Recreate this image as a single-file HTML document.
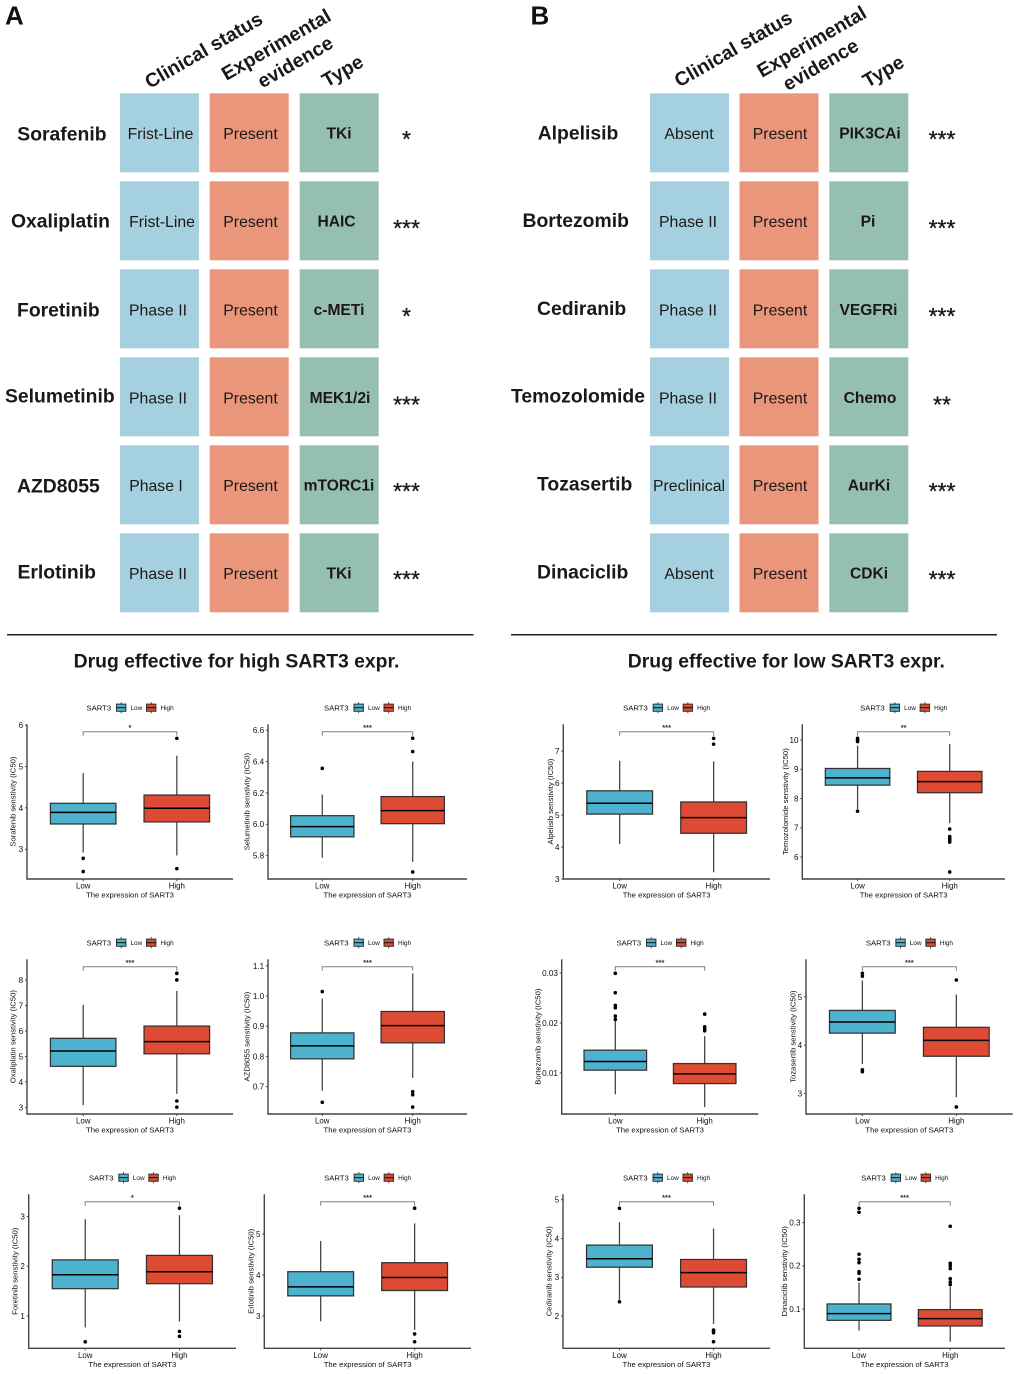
<!DOCTYPE html>
<html lang="en">
<head>
<meta charset="utf-8">
<title>SART3 drug sensitivity figure</title>
<style>
html,body{margin:0;padding:0;background:#fff;}
svg{display:block;font-family:"Liberation Sans",Arial,sans-serif;}
</style>
</head>
<body>
<svg id="figure" xmlns="http://www.w3.org/2000/svg" width="1020" height="1374" viewBox="0 0 1020 1374">
<defs><filter id="soft" x="-2%" y="-2%" width="104%" height="104%"><feGaussianBlur stdDeviation="0.3"/></filter></defs>
</svg>
<script>
/* ---------- Table data ---------- */
const tableHeaders = ['Clinical status', 'Experimental', 'evidence', 'Type'];
const drugsA = ['Sorafenib', 'Oxaliplatin', 'Foretinib', 'Selumetinib', 'AZD8055', 'Erlotinib'];
const statusA = ['Frist-Line', 'Frist-Line', 'Phase II', 'Phase II', 'Phase I', 'Phase II'];
const typesA = ['TKi', 'HAIC', 'c-METi', 'MEK1/2i', 'mTORC1i', 'TKi'];
const starsA = ['*', '***', '*', '***', '***', '***'];
const drugsB = ['Alpelisib', 'Bortezomib', 'Cediranib', 'Temozolomide', 'Tozasertib', 'Dinaciclib'];
const statusB = ['Absent', 'Phase II', 'Phase II', 'Phase II', 'Preclinical', 'Absent'];
const typesB = ['PIK3CAi', 'Pi', 'VEGFRi', 'Chemo', 'AurKi', 'CDKi'];
const starsB = ['***', '***', '***', '**', '***', '***'];

/* ---------- Boxplot data: boxes are [lower whisker, Q1, median, Q3, upper whisker] ---------- */
const categories = ['Low', 'High'];

const sorafenibLowBox = [2.92, 3.61, 3.89, 4.11, 4.84];
const sorafenibHighBox = [2.85, 3.66, 3.99, 4.31, 5.26];
const sorafenibLowOutliers = [2.78, 2.46];
const sorafenibHighOutliers = [5.68, 2.53];
const sorafenibTicks = ['3', '4', '5', '6'];
const sorafenibDomain = [2.28, 6.02];

const selumetinibLowBox = [5.787, 5.92, 5.985, 6.055, 6.19];
const selumetinibHighBox = [5.76, 6.004, 6.087, 6.177, 6.40];
const selumetinibLowOutliers = [6.357];
const selumetinibHighOutliers = [6.549, 6.464, 5.696];
const selumetinibTicks = ['5.8', '6.0', '6.2', '6.4', '6.6'];
const selumetinibDomain = [5.651, 6.638];

const alpelisibLowBox = [4.09, 5.03, 5.37, 5.76, 6.70];
const alpelisibHighBox = [3.21, 4.43, 4.92, 5.41, 6.68];
const alpelisibLowOutliers = [];
const alpelisibHighOutliers = [7.40, 7.22];
const alpelisibTicks = ['3', '4', '5', '6', '7'];
const alpelisibDomain = [3.0, 7.84];

const temozolomideLowBox = [7.64, 8.46, 8.71, 9.03, 9.81];
const temozolomideHighBox = [7.16, 8.2, 8.58, 8.93, 9.87];
const temozolomideLowOutliers = [10.06, 10.0, 9.95, 7.57];
const temozolomideHighOutliers = [6.96, 6.70, 6.63, 6.58, 6.51, 5.49];
const temozolomideTicks = ['6', '7', '8', '9', '10'];
const temozolomideDomain = [5.25, 10.54];

const oxaliplatinLowBox = [3.09, 4.61, 5.21, 5.71, 7.02];
const oxaliplatinHighBox = [3.53, 5.10, 5.58, 6.19, 7.57];
const oxaliplatinLowOutliers = [];
const oxaliplatinHighOutliers = [8.26, 8.0, 3.25, 3.01];
const oxaliplatinTicks = ['3', '4', '5', '6', '7', '8'];
const oxaliplatinDomain = [2.74, 8.81];

const azd8055LowBox = [0.686, 0.792, 0.835, 0.878, 0.992];
const azd8055HighBox = [0.729, 0.845, 0.902, 0.949, 1.075];
const azd8055LowOutliers = [1.015, 0.648];
const azd8055HighOutliers = [0.683, 0.673, 0.632];
const azd8055Ticks = ['0.7', '0.8', '0.9', '1.0', '1.1'];
const azd8055Domain = [0.609, 1.122];

const bortezomibLowBox = [0.00572, 0.01054, 0.01227, 0.01455, 0.0206];
const bortezomibHighBox = [0.00318, 0.00786, 0.0098, 0.01187, 0.01736];
const bortezomibLowOutliers = [0.02993, 0.02605, 0.02351, 0.02304, 0.02137, 0.0207];
const bortezomibHighOutliers = [0.02177, 0.01923, 0.01883, 0.01843];
const bortezomibTicks = ['0.01', '0.02', '0.03'];
const bortezomibDomain = [0.00177, 0.03274];

const tozasertibLowBox = [3.61, 4.25, 4.48, 4.72, 5.34];
const tozasertibHighBox = [2.92, 3.77, 4.10, 4.37, 5.05];
const tozasertibLowOutliers = [5.49, 5.43, 3.49, 3.45];
const tozasertibHighOutliers = [5.35, 2.72];
const tozasertibTicks = ['3', '4', '5'];
const tozasertibDomain = [2.574, 5.779];

const foretinibLowBox = [0.77, 1.55, 1.83, 2.13, 2.95];
const foretinibHighBox = [0.89, 1.65, 1.89, 2.22, 3.03];
const foretinibLowOutliers = [0.48];
const foretinibHighOutliers = [3.17, 0.69, 0.59];
const foretinibTicks = ['1', '2', '3'];
const foretinibDomain = [0.349, 3.45];

const erlotinibLowBox = [2.87, 3.49, 3.71, 4.08, 4.83];
const erlotinibHighBox = [2.66, 3.62, 3.94, 4.30, 5.26];
const erlotinibLowOutliers = [];
const erlotinibHighOutliers = [5.63, 2.56, 2.37];
const erlotinibTicks = ['3', '4', '5'];
const erlotinibDomain = [2.21, 5.97];

const cediranibLowBox = [2.42, 3.26, 3.48, 3.83, 4.42];
const cediranibHighBox = [1.80, 2.75, 3.12, 3.46, 4.26];
const cediranibLowOutliers = [4.78, 2.37];
const cediranibHighOutliers = [1.64, 1.61, 1.57, 1.34];
const cediranibTicks = ['2', '3', '4', '5'];
const cediranibDomain = [1.17, 5.14];

const dinaciclibLowBox = [0.0498, 0.0737, 0.0892, 0.1116, 0.161];
const dinaciclibHighBox = [0.0243, 0.0606, 0.0776, 0.0985, 0.151];
const dinaciclibLowOutliers = [0.3332, 0.3239, 0.2266, 0.2151, 0.2073, 0.1865, 0.1826, 0.1687];
const dinaciclibHighOutliers = [0.2915, 0.2058, 0.2004, 0.1934, 0.1703, 0.1625, 0.1564];
const dinaciclibTicks = ['0.1', '0.2', '0.3'];
const dinaciclibDomain = [0.0089, 0.3656];

/* ---------- Panels: data references plus page layout ---------- */
const panels = [
  {key:'sorafenib', name:'Sorafenib', sig:'*', low:sorafenibLowBox, high:sorafenibHighBox, lowOut:sorafenibLowOutliers, highOut:sorafenibHighOutliers, ticks:sorafenibTicks, domain:sorafenibDomain, left:27, right:233, row:0, titleGap:14},
  {key:'selumetinib', name:'Selumetinib', sig:'***', low:selumetinibLowBox, high:selumetinibHighBox, lowOut:selumetinibLowOutliers, highOut:selumetinibHighOutliers, ticks:selumetinibTicks, domain:selumetinibDomain, left:268, right:467, row:0, titleGap:21},
  {key:'alpelisib', name:'Alpelisib', sig:'***', low:alpelisibLowBox, high:alpelisibHighBox, lowOut:alpelisibLowOutliers, highOut:alpelisibHighOutliers, ticks:alpelisibTicks, domain:alpelisibDomain, left:563.3, right:770, row:0, titleGap:13},
  {key:'temozolomide', name:'Temozolomide', sig:'**', low:temozolomideLowBox, high:temozolomideHighBox, lowOut:temozolomideLowOutliers, highOut:temozolomideHighOutliers, ticks:temozolomideTicks, domain:temozolomideDomain, left:802.3, right:1005, row:0, titleGap:17},
  {key:'oxaliplatin', name:'Oxaliplatin', sig:'***', low:oxaliplatinLowBox, high:oxaliplatinHighBox, lowOut:oxaliplatinLowOutliers, highOut:oxaliplatinHighOutliers, ticks:oxaliplatinTicks, domain:oxaliplatinDomain, left:27, right:233, row:1, titleGap:14},
  {key:'azd8055', name:'AZD8055', sig:'***', low:azd8055LowBox, high:azd8055HighBox, lowOut:azd8055LowOutliers, highOut:azd8055HighOutliers, ticks:azd8055Ticks, domain:azd8055Domain, left:268, right:467, row:1, titleGap:21},
  {key:'bortezomib', name:'Bortezomib', sig:'***', low:bortezomibLowBox, high:bortezomibHighBox, lowOut:bortezomibLowOutliers, highOut:bortezomibHighOutliers, ticks:bortezomibTicks, domain:bortezomibDomain, left:561.7, right:758.3, row:1, titleGap:24},
  {key:'tozasertib', name:'Tozasertib', sig:'***', low:tozasertibLowBox, high:tozasertibHighBox, lowOut:tozasertibLowOutliers, highOut:tozasertibHighOutliers, ticks:tozasertibTicks, domain:tozasertibDomain, left:806, right:1012.7, row:1, titleGap:13.3},
  {key:'foretinib', name:'Foretinib', sig:'*', low:foretinibLowBox, high:foretinibHighBox, lowOut:foretinibLowOutliers, highOut:foretinibHighOutliers, ticks:foretinibTicks, domain:foretinibDomain, left:28.7, right:236, row:2, titleGap:13.7},
  {key:'erlotinib', name:'Erlotinib', sig:'***', low:erlotinibLowBox, high:erlotinibHighBox, lowOut:erlotinibLowOutliers, highOut:erlotinibHighOutliers, ticks:erlotinibTicks, domain:erlotinibDomain, left:264.3, right:471, row:2, titleGap:13.6},
  {key:'cediranib', name:'Cediranib', sig:'***', low:cediranibLowBox, high:cediranibHighBox, lowOut:cediranibLowOutliers, highOut:cediranibHighOutliers, ticks:cediranibTicks, domain:cediranibDomain, left:563, right:770, row:2, titleGap:14},
  {key:'dinaciclib', name:'Dinaciclib', sig:'***', low:dinaciclibLowBox, high:dinaciclibHighBox, lowOut:dinaciclibLowOutliers, highOut:dinaciclibHighOutliers, ticks:dinaciclibTicks, domain:dinaciclibDomain, left:804.3, right:1005, row:2, titleGap:20}
];
const rowOrigins = [690, 925, 1160];
const rowAxisBottom = [189, 189, 188.3];

const LOW_COLOR = '#4db2cd';
const HIGH_COLOR = '#dd4c34';
const LINE = '#333333';
const INK = '#1d1717';

const NS = 'http://www.w3.org/2000/svg';
const svg = document.getElementById('figure');

function make(tag, attrs, parent, txt) {
  const e = document.createElementNS(NS, tag);
  for (const k in attrs) e.setAttribute(k, attrs[k]);
  if (txt !== undefined) e.textContent = txt;
  parent.appendChild(e);
  return e;
}
function slug(s) {
  return String(s).toLowerCase().replace(/[^a-z0-9]+/g, '-').replace(/^-|-$/g, '');
}

/* ---------- Static page furniture ---------- */
function drawHeading(letter, x, dividerX0, dividerX1, title, titleX) {
  const l = make('text', {x: x, y: 24.5, 'font-size': 26, 'font-weight': 'bold', fill: '#111'}, svg, letter);
  
  
  const d = make('line', {x1: dividerX0, x2: dividerX1, y1: 634.7, y2: 634.7, stroke: '#222', 'stroke-width': 1.5}, svg);
  
  
  const t = make('text', {x: titleX, y: 667.5, 'font-size': 19.35, 'font-weight': 'bold', fill: INK, 'text-anchor': 'middle'}, svg, title);
  
  
}
drawHeading('A', 5, 7, 473.5, 'Drug effective for high SART3 expr.', 236.5);
drawHeading('B', 530.5, 511, 997, 'Drug effective for low SART3 expr.', 786.3);

/* ---------- Drug tables ---------- */
const rowY = [93.3, 181.3, 269.3, 357.3, 445.3, 533.3];
const cellSize = 79;
const cellColors = ['#a5d0df', '#e9967a', '#95bfb0'];

function drawTable(cfg) {
  cfg.headers.forEach(function (h, i) {
    const t = make('text', {
      transform: 'translate(' + h[0] + ',' + h[1] + ') rotate(-30)',
      y: 6.5, 'text-anchor': 'middle', 'font-size': 19.5, 'font-weight': 'bold', fill: INK
    }, svg, tableHeaders[i]);
    
    
  });
  cfg.drugs.forEach(function (drug, r) {
    const y = rowY[r];
    const label = make('text', {x: cfg.drugX[r], y: cfg.drugY[r] + 6.5, 'font-size': 19.35, 'font-weight': 'bold', fill: INK}, svg, drug);
    
    
    [cfg.status[r], 'Present', cfg.types[r]].forEach(function (value, c) {
      const cell = make('rect', {x: cfg.cellX[c], y: y, width: cellSize, height: cellSize, fill: cellColors[c]}, svg);
      
      
      const bold = c === 2;
      const cx = c === 0 ? cfg.statusCx[r] : (c === 1 ? cfg.presentCx : cfg.typeCx[r]);
      const cy = cfg.textY[r] + (bold ? 5 : 5.5);
      const txt = make('text', {x: cx, y: cy, 'text-anchor': 'middle', 'font-size': bold ? 15.6 : 15.8, 'font-weight': bold ? 'bold' : 'normal', fill: INK}, svg, value);
      
      
    });
    const star = make('text', {x: cfg.starX, y: cfg.starY[r] + 11, 'text-anchor': 'middle', 'font-size': 23, 'stroke': INK, 'stroke-width': 0.3, fill: INK}, svg, cfg.stars[r]);
    
    
  });
}

drawTable({
  id: 'a', drugs: drugsA, status: statusA, types: typesA, stars: starsA,
  headers: [[203.7, 50.3], [276.2, 44.7], [295.3, 62], [342.6, 71]],
  cellX: [120, 209.7, 299.7],
  drugX: [17.3, 11, 17, 5, 17, 17.5],
  drugY: [134, 221, 310, 396, 486, 572],
  statusCx: [160.5, 162, 158, 158, 156, 158],
  presentCx: 250.5,
  typeCx: [339, 336.5, 339, 340, 339, 339],
  textY: [133.5, 221.5, 310, 398, 485.5, 573.5],
  starX: 406.5, starY: [136, 225, 313, 401.5, 488, 576]
});
drawTable({
  id: 'b', drugs: drugsB, status: statusB, types: typesB, stars: starsB,
  headers: [[733.3, 49], [811.7, 41.7], [820.7, 64.7], [883.3, 71.3]],
  cellX: [650, 739.5, 829.3],
  drugX: [537.7, 522.5, 537, 511, 537, 537],
  drugY: [133, 220.5, 308.5, 396, 484, 572],
  statusCx: [689, 688, 688, 688, 689, 689],
  presentCx: 780,
  typeCx: [870, 868, 868.5, 870, 869, 869],
  textY: [133.5, 221.5, 310, 398, 485.5, 573.5],
  starX: 942, starY: [136, 225, 313, 401.5, 488, 576]
});

/* ---------- Box plots ---------- */
function drawPanel(p) {
  const origin = rowOrigins[p.row];
  const top = origin + 34.3;
  const bottom = origin + rowAxisBottom[p.row];
  const g = make('g', {filter: 'url(#soft)'}, svg);
  
  

  const xScale = function (i) { return p.left + (p.right - p.left) * (0.6 + i) / 2.2; };
  const yScale = function (v) { return bottom - (v - p.domain[0]) / (p.domain[1] - p.domain[0]) * (bottom - top); };
  const halfBox = (p.right - p.left) * 0.35 / 2.2;
  const cx = (p.left + p.right) / 2;

  /* legend */
  const legendY = origin + 17.7;
  const legendTitle = make('text', {x: cx - 43.5, y: legendY + 2.7, 'font-size': 7.7, fill: '#111'}, g, 'SART3');
  
  
  categories.forEach(function (cat, i) {
    const kx = cx + (i === 0 ? -13.5 : 16.5);
    const color = i === 0 ? LOW_COLOR : HIGH_COLOR;
    const whisk = make('line', {x1: kx + 4.7, x2: kx + 4.7, y1: legendY - 5.5, y2: legendY + 5.5, stroke: LINE, 'stroke-width': 0.9}, g);
    
    
    const key = make('rect', {x: kx, y: legendY - 3.6, width: 9.4, height: 7.2, fill: color, stroke: LINE, 'stroke-width': 1}, g);
    
    
    const keyMed = make('line', {x1: kx, x2: kx + 9.4, y1: legendY, y2: legendY, stroke: '#111', 'stroke-width': 1}, g);
    
    
    const lt = make('text', {x: kx + 14, y: legendY + 2.3, 'font-size': 6.4, fill: '#111'}, g, cat);
    
    
  });

  /* significance bracket */
  const bracketY = origin + 41.7;
  const bracket = make('path', {
    d: 'M' + xScale(0) + ' ' + (bracketY + 4) + 'V' + bracketY + 'H' + xScale(1) + 'V' + (bracketY + 4),
    fill: 'none', stroke: '#808080', 'stroke-width': 1
  }, g);
  
  
  const sig = make('text', {x: (xScale(0) + xScale(1)) / 2, y: origin + 40, 'text-anchor': 'middle', 'font-size': 7.5, 'stroke': '#222', 'stroke-width': 0.2, fill: '#222'}, g, p.sig);
  
  

  /* boxes */
  [p.low, p.high].forEach(function (box, i) {
    const x = xScale(i);
    const color = i === 0 ? LOW_COLOR : HIGH_COLOR;
    const wUp = make('line', {x1: x, x2: x, y1: yScale(box[4]), y2: yScale(box[3]), stroke: '#3f3f3f', 'stroke-width': 1.25}, g);
    
    
    const wDown = make('line', {x1: x, x2: x, y1: yScale(box[1]), y2: yScale(box[0]), stroke: '#3f3f3f', 'stroke-width': 1.25}, g);
    
    
    const r = make('rect', {x: x - halfBox, y: yScale(box[3]), width: halfBox * 2, height: yScale(box[1]) - yScale(box[3]), fill: color, stroke: LINE, 'stroke-width': 1.25}, g);
    
    
    const m = make('line', {x1: x - halfBox, x2: x + halfBox, y1: yScale(box[2]), y2: yScale(box[2]), stroke: '#000', 'stroke-width': 1.5}, g);
    
    
  });
  [p.lowOut, p.highOut].forEach(function (pts, i) {
    pts.forEach(function (v) {
      const c = make('circle', {cx: xScale(i), cy: yScale(v), r: 1.8, fill: '#000'}, g);
      
      
    });
  });

  /* axes */
  const axisY = make('line', {x1: p.left, x2: p.left, y1: top, y2: bottom + 0.7, stroke: '#444', 'stroke-width': 1.4}, g);
  
  
  const axisX = make('line', {x1: p.left, x2: p.right, y1: bottom, y2: bottom, stroke: '#444', 'stroke-width': 1.4}, g);
  
  
  p.ticks.forEach(function (t) {
    const y = yScale(Number(t));
    const mark = make('line', {x1: p.left - 2, x2: p.left, y1: y, y2: y, stroke: '#444', 'stroke-width': 1}, g);
    
    
    const lab = make('text', {x: p.left - 3.8, y: y + 2.9, 'text-anchor': 'end', 'font-size': 8.1, fill: '#111'}, g, t);
    
    
  });
  categories.forEach(function (cat, i) {
    const x = xScale(i);
    const mark = make('line', {x1: x, x2: x, y1: bottom, y2: bottom + 2, stroke: '#444', 'stroke-width': 1}, g);
    
    
    const lab = make('text', {x: x, y: bottom + 9.6, 'text-anchor': 'middle', 'font-size': 7.9, fill: '#111'}, g, cat);
    
    
  });
  const xt = make('text', {x: cx, y: bottom + 18.7, 'text-anchor': 'middle', 'font-size': 7.7, fill: '#111'}, g, 'The expression of SART3');
  
  
  const yt = make('text', {
    transform: 'translate(' + (p.left - p.titleGap) + ',' + ((top + bottom) / 2) + ') rotate(-90)',
    y: 2.7, 'text-anchor': 'middle', 'font-size': 7.7, fill: '#111'
  }, g, p.name + ' senstivity (IC50)');
  
  
}
panels.forEach(drawPanel);
</script>
</body>
</html>
